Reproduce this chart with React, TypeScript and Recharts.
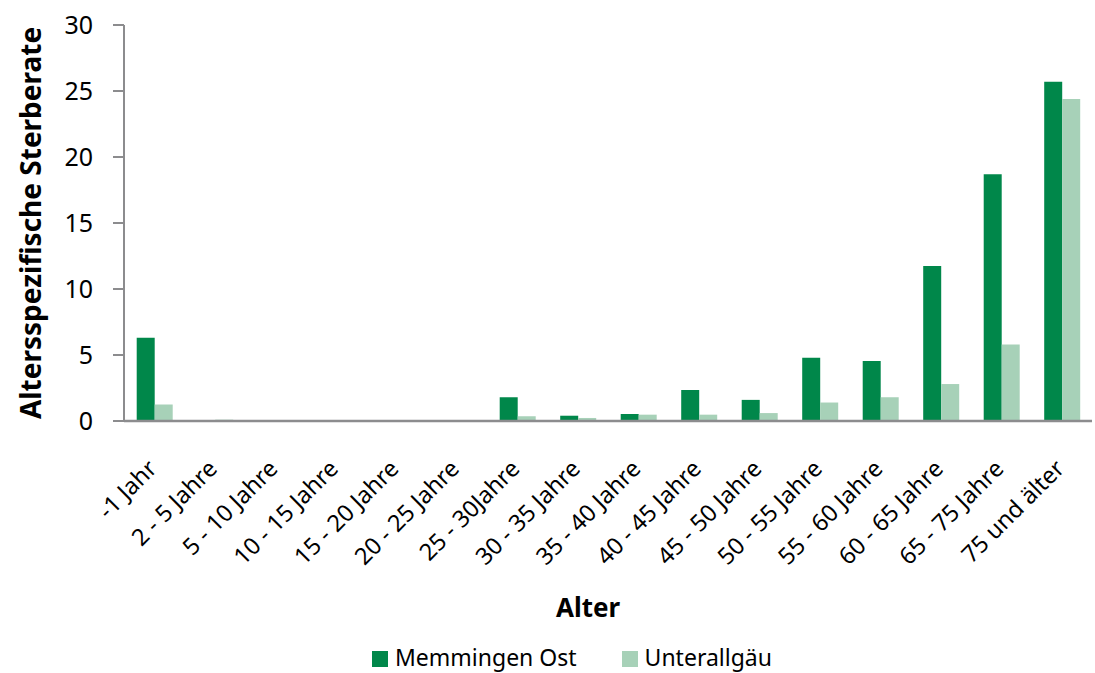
import React from 'react';
import { BarChart, Bar, XAxis, YAxis, Label } from 'recharts';

const categories = [
    '-1 Jahr', '2 - 5 Jahre', '5 - 10 Jahre', '10 - 15 Jahre', '15 - 20 Jahre',
    '20 - 25 Jahre', '25 - 30Jahre', '30 - 35 Jahre', '35 - 40 Jahre', '40 - 45 Jahre',
    '45 - 50 Jahre', '50 - 55 Jahre', '55 - 60 Jahre', '60 - 65 Jahre', '65 - 75 Jahre',
    '75 und älter',
];
const memmingenOst = [6.3, 0, 0, 0, 0, 0, 1.8, 0.4, 0.53, 2.35, 1.6, 4.8, 4.55, 11.75, 18.7, 25.7];
const unterallgaeu = [1.25, 0.1, 0, 0.05, 0.05, 0.05, 0.36, 0.23, 0.48, 0.48, 0.6, 1.4, 1.8, 2.8, 5.8, 24.4];
const yTicks = [0, 5, 10, 15, 20, 25, 30];

const DARK = '#00874a';
const LIGHT = '#a7d1b8';
const AXIS = '#8c8c8e';
const FONT = '"Noto Sans", sans-serif';

const data = categories.map((name, i) => ({
    name,
    memmingenOst: memmingenOst[i],
    unterallgaeu: unterallgaeu[i],
}));

// rotated category labels, anchored at their end
const AngledTick = ({ x, y, payload }: any) => {
    const ax = x + 4;
    const ay = y + 41;
    return (
        <text
            x={ax}
            y={ay}
            transform={`rotate(-45, ${ax}, ${ay})`}
            textAnchor="end"
            fontFamily={FONT}
            fontSize={23.5}
            fill="#000"
        >
            {payload.value}
        </text>
    );
};

export default function App() {
    return (
        <div style={{ position: 'absolute', left: 0, top: 0, width: 1095, height: 673, background: '#fff' }}>
            <BarChart
                width={1095}
                height={673}
                data={data}
                margin={{ top: 25, right: 3, left: 10, bottom: 0 }}
                barCategoryGap="21%"
                barGap={0}
            >
                <XAxis
                    dataKey="name"
                    height={252}
                    interval={0}
                    tickLine={false}
                    axisLine={{ stroke: AXIS, strokeWidth: 2.5 }}
                    tick={<AngledTick />}
                >
                    <Label
                        value="Alter"
                        position="insideBottom"
                        offset={56}
                        dx={-20}
                        fontSize={26}
                        style={{ fontFamily: FONT, fontSize: 26, fontWeight: 700, fill: '#000' }}
                    />
                </XAxis>
                <YAxis
                    width={114}
                    domain={[0, 30]}
                    ticks={yTicks}
                    interval={0}
                    tickSize={11}
                    tickMargin={20}
                    axisLine={{ stroke: AXIS, strokeWidth: 2 }}
                    tickLine={{ stroke: AXIS, strokeWidth: 2 }}
                    tick={{ fontFamily: FONT, fontSize: 25, fill: '#000' }}
                >
                    <Label
                        value="Altersspezifische Sterberate"
                        angle={-90}
                        position="center"
                        dx={-36}
                        fontSize={28}
                        style={{ fontFamily: FONT, fontSize: 28, fontWeight: 700, fill: '#000', textAnchor: 'middle' }}
                    />
                </YAxis>
                <Bar dataKey="memmingenOst" name="Memmingen Ost" fill={DARK} isAnimationActive={false} />
                <Bar dataKey="unterallgaeu" name="Unterallgäu" fill={LIGHT} isAnimationActive={false} />
            </BarChart>
            <div
                style={{
                    position: 'absolute',
                    top: 643,
                    left: 372,
                    display: 'flex',
                    alignItems: 'center',
                    fontFamily: FONT,
                    fontSize: 23,
                    color: '#000',
                    lineHeight: '28px',
                }}
            >
                <span style={{ width: 16, height: 16, background: DARK, display: 'inline-block', marginRight: 7, position: 'relative', top: 2 }} />
                <span style={{ marginRight: 45 }}>Memmingen Ost</span>
                <span style={{ width: 16, height: 16, background: LIGHT, display: 'inline-block', marginRight: 7, position: 'relative', top: 2 }} />
                <span>Unterallgäu</span>
            </div>
        </div>
    );
}
